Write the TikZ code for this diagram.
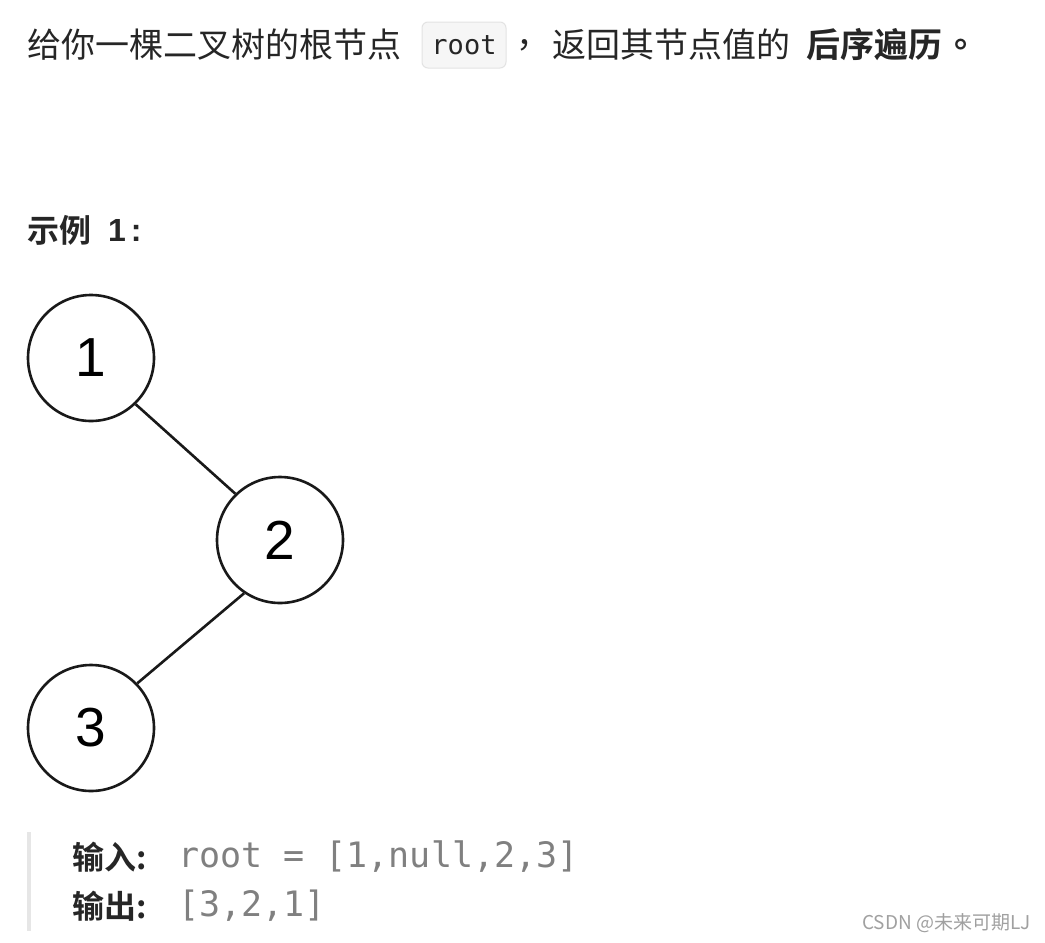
\documentclass[tikz,border=0pt]{standalone}
\usepackage{fontspec}
\setmainfont{Liberation Sans}
\newfontfamily\cjk{Noto Sans CJK SC}
\newfontfamily\cjkb{Noto Sans CJK SC Bold}
\newfontfamily\mono{DejaVu Sans Mono}
\definecolor{txt}{HTML}{262626}
\definecolor{codegray}{HTML}{808080}
\definecolor{boxfill}{HTML}{F6F6F6}
\definecolor{boxline}{HTML}{E3E3E3}
\definecolor{barcol}{HTML}{E6E6E6}
\definecolor{wm}{HTML}{A0A0A0}
\begin{document}
\begin{tikzpicture}[x=1pt,y=-1pt,
  lbl/.style={anchor=west,inner sep=0pt,text=txt},
  tnode/.style={circle,draw=black!90,line width=2.6pt,minimum size=126pt,inner sep=0pt,font=\fontsize{55}{55}\selectfont},
  edgeline/.style={draw=black!90,line width=2.6pt}]
\useasboundingbox[fill=white] (0,0) rectangle (1045,943);
% title line
\node[lbl,font=\fontsize{34}{34}\selectfont\cjk] (t1) at (27,45) {给你一棵二叉树的根节点};
\draw[fill=boxfill,draw=boxline,line width=1pt,rounded corners=6pt] (422,22) rectangle (506,68);
\node[inner sep=0pt,text=txt,font=\fontsize{27}{27}\selectfont\mono] (code) at (464,45) {root};
\node[lbl,font=\fontsize{34}{34}\selectfont\cjk] (t2) at (516,45) {，};
\node[lbl,font=\fontsize{34}{34}\selectfont\cjk] (t3) at (552,45) {返回其节点值的};
\node[lbl,font=\fontsize{34}{34}\selectfont\cjkb] (t4) at (806,45) {后序遍历};
\node[lbl,font=\fontsize{34}{34}\selectfont\cjkb] (t5) at (954,45) {。};
% example heading
\node[lbl,font=\fontsize{32}{32}\selectfont\cjkb] (ex) at (27,230) {示例};
\node[lbl,font=\fontsize{32}{32}\selectfont\bfseries] (exn) at (108,230) {1\hspace{5pt}:};
% tree
\node[tnode] (n1) at (91,358) {1};
\node[tnode] (n2) at (280,540) {2};
\node[tnode] (n3) at (91,728) {3};
\draw[edgeline] (n1.314) -- (n2.134);
\draw[edgeline] (n2.236) -- (n3.44);
% quote block
\fill[barcol] (27,832) rectangle (31,931);
\node[lbl,font=\fontsize{32}{32}\selectfont\cjkb] (in) at (72,857) {输入:};
\node[lbl,text=codegray,font=\fontsize{35}{35}\selectfont\mono] (inv) at (178,857) {root = [1,null,2,3]};
\node[lbl,font=\fontsize{32}{32}\selectfont\cjkb] (out) at (72,906) {输出:};
\node[lbl,text=codegray,font=\fontsize{35}{35}\selectfont\mono] (outv) at (178,906) {[3,2,1]};
\node[lbl,text=wm,font=\fontsize{19}{19}\selectfont\cjk] (mark) at (862,923) {CSDN @未来可期LJ};
\end{tikzpicture}
\end{document}
